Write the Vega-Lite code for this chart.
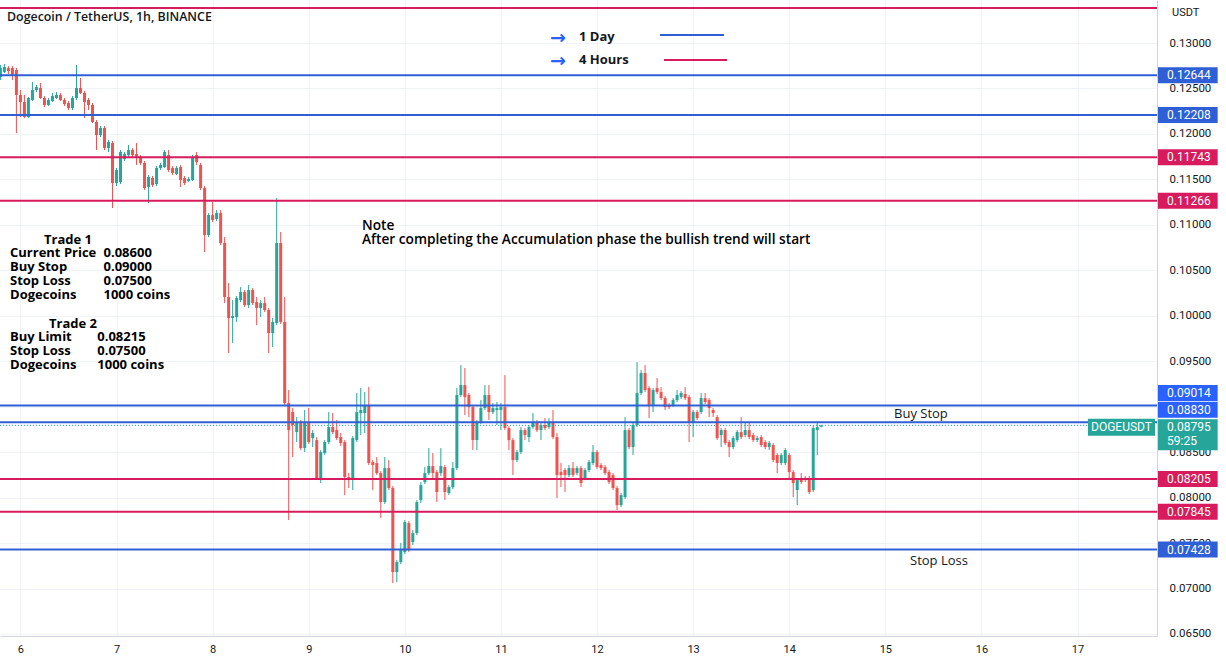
{
  "$schema": "https://vega.github.io/schema/vega-lite/v6.json",
  "width": 1157,
  "height": 636,
  "autosize": "none",
  "padding": {"left": 0, "top": 0, "right": 69, "bottom": 29},
  "background": "white",
  "config": {"view": {"stroke": null}, "font": "Roboto"},
  "datasets": {
    "candles": [
      {"t":19,"open":0.12626,"high":0.12758,"low":0.12593,"close":0.12725},
      {"t":20,"open":0.12681,"high":0.12769,"low":0.12670,"close":0.12736},
      {"t":21,"open":0.12725,"high":0.12747,"low":0.12659,"close":0.12692},
      {"t":22,"open":0.12725,"high":0.12747,"low":0.12593,"close":0.12648},
      {"t":23,"open":0.12703,"high":0.12725,"low":0.12010,"close":0.12428},
      {"t":24,"open":0.12428,"high":0.12483,"low":0.12186,"close":0.12351},
      {"t":25,"open":0.12351,"high":0.12428,"low":0.12175,"close":0.12186},
      {"t":26,"open":0.12186,"high":0.12406,"low":0.12175,"close":0.12395},
      {"t":27,"open":0.12373,"high":0.12571,"low":0.12362,"close":0.12483},
      {"t":28,"open":0.12483,"high":0.12538,"low":0.12461,"close":0.12516},
      {"t":29,"open":0.12505,"high":0.12560,"low":0.12384,"close":0.12395},
      {"t":30,"open":0.12395,"high":0.12417,"low":0.12296,"close":0.12318},
      {"t":31,"open":0.12318,"high":0.12395,"low":0.12307,"close":0.12373},
      {"t":32,"open":0.12362,"high":0.12450,"low":0.12351,"close":0.12417},
      {"t":33,"open":0.12395,"high":0.12461,"low":0.12384,"close":0.12428},
      {"t":34,"open":0.12428,"high":0.12450,"low":0.12362,"close":0.12373},
      {"t":35,"open":0.12373,"high":0.12395,"low":0.12307,"close":0.12329},
      {"t":36,"open":0.12340,"high":0.12362,"low":0.12263,"close":0.12285},
      {"t":37,"open":0.12285,"high":0.12417,"low":0.12263,"close":0.12395},
      {"t":38,"open":0.12395,"high":0.12758,"low":0.12373,"close":0.12505},
      {"t":39,"open":0.12505,"high":0.12615,"low":0.12439,"close":0.12450},
      {"t":40,"open":0.12450,"high":0.12472,"low":0.12175,"close":0.12351},
      {"t":41,"open":0.12373,"high":0.12395,"low":0.12263,"close":0.12318},
      {"t":42,"open":0.12318,"high":0.12340,"low":0.12120,"close":0.12131},
      {"t":43,"open":0.12131,"high":0.12153,"low":0.11823,"close":0.11988},
      {"t":44,"open":0.11988,"high":0.12087,"low":0.11966,"close":0.12065},
      {"t":45,"open":0.12065,"high":0.12087,"low":0.11823,"close":0.11845},
      {"t":46,"open":0.11845,"high":0.11933,"low":0.11801,"close":0.11911},
      {"t":47,"open":0.11900,"high":0.11922,"low":0.11185,"close":0.11460},
      {"t":48,"open":0.11460,"high":0.11625,"low":0.11427,"close":0.11603},
      {"t":49,"open":0.11471,"high":0.11823,"low":0.11449,"close":0.11801},
      {"t":50,"open":0.11724,"high":0.11801,"low":0.11702,"close":0.11779},
      {"t":51,"open":0.11768,"high":0.11878,"low":0.11746,"close":0.11823},
      {"t":52,"open":0.11823,"high":0.11845,"low":0.11746,"close":0.11768},
      {"t":53,"open":0.11779,"high":0.11900,"low":0.11658,"close":0.11735},
      {"t":54,"open":0.11746,"high":0.11768,"low":0.11658,"close":0.11680},
      {"t":55,"open":0.11680,"high":0.11702,"low":0.11383,"close":0.11405},
      {"t":56,"open":0.11416,"high":0.11548,"low":0.11240,"close":0.11526},
      {"t":57,"open":0.11515,"high":0.11537,"low":0.11416,"close":0.11438},
      {"t":58,"open":0.11449,"high":0.11647,"low":0.11427,"close":0.11625},
      {"t":59,"open":0.11625,"high":0.11680,"low":0.11603,"close":0.11658},
      {"t":60,"open":0.11636,"high":0.11823,"low":0.11625,"close":0.11801},
      {"t":61,"open":0.11768,"high":0.11823,"low":0.11581,"close":0.11603},
      {"t":62,"open":0.11625,"high":0.11647,"low":0.11548,"close":0.11570},
      {"t":63,"open":0.11559,"high":0.11647,"low":0.11548,"close":0.11625},
      {"t":64,"open":0.11636,"high":0.11658,"low":0.11416,"close":0.11493},
      {"t":65,"open":0.11515,"high":0.11537,"low":0.11438,"close":0.11460},
      {"t":66,"open":0.11482,"high":0.11526,"low":0.11471,"close":0.11504},
      {"t":67,"open":0.11493,"high":0.11768,"low":0.11482,"close":0.11735},
      {"t":68,"open":0.11768,"high":0.11801,"low":0.11658,"close":0.11691},
      {"t":69,"open":0.11658,"high":0.11680,"low":0.11383,"close":0.11405},
      {"t":70,"open":0.11405,"high":0.11427,"low":0.10701,"close":0.10888},
      {"t":71,"open":0.10888,"high":0.11130,"low":0.10866,"close":0.11108},
      {"t":72,"open":0.11108,"high":0.11251,"low":0.11031,"close":0.11053},
      {"t":73,"open":0.11064,"high":0.11163,"low":0.11042,"close":0.11130},
      {"t":74,"open":0.11130,"high":0.11163,"low":0.10778,"close":0.10800},
      {"t":75,"open":0.10800,"high":0.10866,"low":0.10140,"close":0.10206},
      {"t":76,"open":0.10206,"high":0.10360,"low":0.09590,"close":0.09975},
      {"t":77,"open":0.09975,"high":0.10173,"low":0.09700,"close":0.09997},
      {"t":78,"open":0.09986,"high":0.10217,"low":0.09931,"close":0.10195},
      {"t":79,"open":0.10173,"high":0.10316,"low":0.10151,"close":0.10261},
      {"t":80,"open":0.10261,"high":0.10283,"low":0.10096,"close":0.10118},
      {"t":81,"open":0.10118,"high":0.10338,"low":0.10085,"close":0.10283},
      {"t":82,"open":0.10283,"high":0.10305,"low":0.10118,"close":0.10140},
      {"t":83,"open":0.10151,"high":0.10206,"low":0.09898,"close":0.10085},
      {"t":84,"open":0.10085,"high":0.10173,"low":0.09986,"close":0.10140},
      {"t":85,"open":0.10140,"high":0.10206,"low":0.10041,"close":0.10063},
      {"t":86,"open":0.10063,"high":0.10085,"low":0.09590,"close":0.09810},
      {"t":87,"open":0.09810,"high":0.09975,"low":0.09656,"close":0.09931},
      {"t":88,"open":0.09920,"high":0.11295,"low":0.09898,"close":0.10800},
      {"t":89,"open":0.10800,"high":0.10921,"low":0.09909,"close":0.09931},
      {"t":90,"open":0.09931,"high":0.10206,"low":0.09018,"close":0.09040},
      {"t":91,"open":0.09040,"high":0.09183,"low":0.07753,"close":0.08743},
      {"t":92,"open":0.08941,"high":0.08985,"low":0.08446,"close":0.08798},
      {"t":93,"open":0.08721,"high":0.08886,"low":0.08611,"close":0.08820},
      {"t":94,"open":0.08820,"high":0.08853,"low":0.08523,"close":0.08545},
      {"t":95,"open":0.08545,"high":0.08963,"low":0.08501,"close":0.08820},
      {"t":96,"open":0.08820,"high":0.08985,"low":0.08589,"close":0.08611},
      {"t":97,"open":0.08655,"high":0.08743,"low":0.08556,"close":0.08710},
      {"t":98,"open":0.08633,"high":0.08666,"low":0.08193,"close":0.08215},
      {"t":99,"open":0.08215,"high":0.08523,"low":0.08160,"close":0.08501},
      {"t":100,"open":0.08490,"high":0.08633,"low":0.08468,"close":0.08611},
      {"t":101,"open":0.08611,"high":0.08941,"low":0.08589,"close":0.08776},
      {"t":102,"open":0.08776,"high":0.08930,"low":0.08699,"close":0.08721},
      {"t":103,"open":0.08743,"high":0.08853,"low":0.08633,"close":0.08655},
      {"t":104,"open":0.08666,"high":0.08710,"low":0.08567,"close":0.08600},
      {"t":105,"open":0.08611,"high":0.08633,"low":0.08028,"close":0.08226},
      {"t":106,"open":0.08226,"high":0.08270,"low":0.08105,"close":0.08193},
      {"t":107,"open":0.08215,"high":0.08677,"low":0.08083,"close":0.08655},
      {"t":108,"open":0.08633,"high":0.09150,"low":0.08611,"close":0.08941},
      {"t":109,"open":0.08930,"high":0.09205,"low":0.08688,"close":0.08963},
      {"t":110,"open":0.08930,"high":0.09161,"low":0.08710,"close":0.09018},
      {"t":111,"open":0.09018,"high":0.09216,"low":0.08358,"close":0.08380},
      {"t":112,"open":0.08391,"high":0.08413,"low":0.08083,"close":0.08358},
      {"t":113,"open":0.08380,"high":0.08446,"low":0.08248,"close":0.08270},
      {"t":114,"open":0.08270,"high":0.08292,"low":0.07775,"close":0.07951},
      {"t":115,"open":0.07951,"high":0.08446,"low":0.07929,"close":0.08325},
      {"t":116,"open":0.08325,"high":0.08413,"low":0.08083,"close":0.08105},
      {"t":117,"open":0.08105,"high":0.08127,"low":0.07060,"close":0.07181},
      {"t":118,"open":0.07181,"high":0.07313,"low":0.07071,"close":0.07291},
      {"t":119,"open":0.07291,"high":0.07500,"low":0.07269,"close":0.07423},
      {"t":120,"open":0.07401,"high":0.07753,"low":0.07379,"close":0.07731},
      {"t":121,"open":0.07720,"high":0.07742,"low":0.07401,"close":0.07423},
      {"t":122,"open":0.07511,"high":0.07643,"low":0.07478,"close":0.07610},
      {"t":123,"open":0.07610,"high":0.07973,"low":0.07588,"close":0.07951},
      {"t":124,"open":0.07973,"high":0.08171,"low":0.07940,"close":0.08138},
      {"t":125,"open":0.08171,"high":0.08336,"low":0.08149,"close":0.08270},
      {"t":126,"open":0.08270,"high":0.08545,"low":0.08248,"close":0.08347},
      {"t":127,"open":0.08347,"high":0.08490,"low":0.08193,"close":0.08270},
      {"t":128,"open":0.08281,"high":0.08303,"low":0.07951,"close":0.08061},
      {"t":129,"open":0.08270,"high":0.08545,"low":0.08237,"close":0.08347},
      {"t":130,"open":0.08336,"high":0.08358,"low":0.07973,"close":0.08061},
      {"t":131,"open":0.08050,"high":0.08138,"low":0.08028,"close":0.08116},
      {"t":132,"open":0.08116,"high":0.08391,"low":0.08094,"close":0.08325},
      {"t":133,"open":0.08325,"high":0.09205,"low":0.08303,"close":0.09128},
      {"t":134,"open":0.09128,"high":0.09458,"low":0.09106,"close":0.09238},
      {"t":135,"open":0.09238,"high":0.09425,"low":0.08908,"close":0.09106},
      {"t":136,"open":0.09128,"high":0.09150,"low":0.08886,"close":0.08996},
      {"t":137,"open":0.08996,"high":0.09018,"low":0.08523,"close":0.08633},
      {"t":138,"open":0.08633,"high":0.08853,"low":0.08523,"close":0.08831},
      {"t":139,"open":0.08831,"high":0.09073,"low":0.08809,"close":0.08985},
      {"t":140,"open":0.08985,"high":0.09238,"low":0.08963,"close":0.09128},
      {"t":141,"open":0.09128,"high":0.09238,"low":0.08853,"close":0.08941},
      {"t":142,"open":0.08941,"high":0.09040,"low":0.08919,"close":0.08985},
      {"t":143,"open":0.08963,"high":0.09051,"low":0.08798,"close":0.08985},
      {"t":144,"open":0.08963,"high":0.09040,"low":0.08743,"close":0.08996},
      {"t":145,"open":0.08996,"high":0.09348,"low":0.08743,"close":0.08765},
      {"t":146,"open":0.08765,"high":0.08787,"low":0.08523,"close":0.08633},
      {"t":147,"open":0.08633,"high":0.08655,"low":0.08248,"close":0.08413},
      {"t":148,"open":0.08413,"high":0.08523,"low":0.08391,"close":0.08501},
      {"t":149,"open":0.08501,"high":0.08776,"low":0.08479,"close":0.08743},
      {"t":150,"open":0.08743,"high":0.08765,"low":0.08633,"close":0.08688},
      {"t":151,"open":0.08666,"high":0.08798,"low":0.08611,"close":0.08776},
      {"t":152,"open":0.08776,"high":0.08930,"low":0.08754,"close":0.08831},
      {"t":153,"open":0.08831,"high":0.08853,"low":0.08721,"close":0.08743},
      {"t":154,"open":0.08743,"high":0.08820,"low":0.08633,"close":0.08798},
      {"t":155,"open":0.08798,"high":0.08875,"low":0.08743,"close":0.08765},
      {"t":156,"open":0.08776,"high":0.08875,"low":0.08754,"close":0.08831},
      {"t":157,"open":0.08831,"high":0.08963,"low":0.08644,"close":0.08666},
      {"t":158,"open":0.08666,"high":0.08710,"low":0.07995,"close":0.08248},
      {"t":159,"open":0.08281,"high":0.08380,"low":0.08116,"close":0.08248},
      {"t":160,"open":0.08303,"high":0.08325,"low":0.08061,"close":0.08248},
      {"t":161,"open":0.08248,"high":0.08358,"low":0.08226,"close":0.08325},
      {"t":162,"open":0.08325,"high":0.08391,"low":0.08226,"close":0.08248},
      {"t":163,"open":0.08270,"high":0.08347,"low":0.08248,"close":0.08325},
      {"t":164,"open":0.08325,"high":0.08347,"low":0.08116,"close":0.08160},
      {"t":165,"open":0.08215,"high":0.08325,"low":0.08193,"close":0.08303},
      {"t":166,"open":0.08303,"high":0.08413,"low":0.08281,"close":0.08391},
      {"t":167,"open":0.08380,"high":0.08578,"low":0.08358,"close":0.08501},
      {"t":168,"open":0.08501,"high":0.08523,"low":0.08314,"close":0.08336},
      {"t":169,"open":0.08358,"high":0.08380,"low":0.08303,"close":0.08325},
      {"t":170,"open":0.08336,"high":0.08358,"low":0.08248,"close":0.08270},
      {"t":171,"open":0.08281,"high":0.08303,"low":0.08149,"close":0.08171},
      {"t":172,"open":0.08248,"high":0.08270,"low":0.08083,"close":0.08105},
      {"t":173,"open":0.08105,"high":0.08127,"low":0.07863,"close":0.07918},
      {"t":174,"open":0.07918,"high":0.08050,"low":0.07896,"close":0.08028},
      {"t":175,"open":0.08006,"high":0.08886,"low":0.07984,"close":0.08743},
      {"t":176,"open":0.08743,"high":0.08765,"low":0.08534,"close":0.08556},
      {"t":177,"open":0.08556,"high":0.08820,"low":0.08468,"close":0.08798},
      {"t":178,"open":0.08798,"high":0.09491,"low":0.08776,"close":0.09150},
      {"t":179,"open":0.09150,"high":0.09403,"low":0.09128,"close":0.09370},
      {"t":180,"open":0.09370,"high":0.09458,"low":0.09161,"close":0.09183},
      {"t":181,"open":0.09205,"high":0.09227,"low":0.08875,"close":0.09018},
      {"t":182,"open":0.09018,"high":0.09205,"low":0.08941,"close":0.09183},
      {"t":183,"open":0.09205,"high":0.09315,"low":0.09139,"close":0.09161},
      {"t":184,"open":0.09161,"high":0.09216,"low":0.09073,"close":0.09095},
      {"t":185,"open":0.09095,"high":0.09117,"low":0.08963,"close":0.08996},
      {"t":186,"open":0.09018,"high":0.09040,"low":0.08974,"close":0.08996},
      {"t":187,"open":0.09018,"high":0.09095,"low":0.08996,"close":0.09073},
      {"t":188,"open":0.09073,"high":0.09183,"low":0.09051,"close":0.09128},
      {"t":189,"open":0.09106,"high":0.09172,"low":0.09084,"close":0.09150},
      {"t":190,"open":0.09139,"high":0.09216,"low":0.09073,"close":0.09095},
      {"t":191,"open":0.09106,"high":0.09128,"low":0.08611,"close":0.08831},
      {"t":192,"open":0.08831,"high":0.08963,"low":0.08666,"close":0.08941},
      {"t":193,"open":0.08941,"high":0.08963,"low":0.08853,"close":0.08875},
      {"t":194,"open":0.08941,"high":0.09150,"low":0.08919,"close":0.09095},
      {"t":195,"open":0.09095,"high":0.09150,"low":0.09029,"close":0.09051},
      {"t":196,"open":0.09073,"high":0.09095,"low":0.08886,"close":0.08985},
      {"t":197,"open":0.08963,"high":0.08985,"low":0.08886,"close":0.08930},
      {"t":198,"open":0.08886,"high":0.08908,"low":0.08633,"close":0.08655},
      {"t":199,"open":0.08688,"high":0.08765,"low":0.08556,"close":0.08743},
      {"t":200,"open":0.08743,"high":0.08765,"low":0.08578,"close":0.08600},
      {"t":201,"open":0.08611,"high":0.08633,"low":0.08446,"close":0.08556},
      {"t":202,"open":0.08556,"high":0.08677,"low":0.08534,"close":0.08655},
      {"t":203,"open":0.08633,"high":0.08743,"low":0.08611,"close":0.08721},
      {"t":204,"open":0.08721,"high":0.08886,"low":0.08644,"close":0.08666},
      {"t":205,"open":0.08688,"high":0.08831,"low":0.08666,"close":0.08743},
      {"t":206,"open":0.08743,"high":0.08831,"low":0.08644,"close":0.08666},
      {"t":207,"open":0.08688,"high":0.08710,"low":0.08611,"close":0.08633},
      {"t":208,"open":0.08633,"high":0.08677,"low":0.08611,"close":0.08655},
      {"t":209,"open":0.08666,"high":0.08688,"low":0.08556,"close":0.08578},
      {"t":210,"open":0.08611,"high":0.08633,"low":0.08534,"close":0.08556},
      {"t":211,"open":0.08556,"high":0.08622,"low":0.08523,"close":0.08600},
      {"t":212,"open":0.08578,"high":0.08600,"low":0.08391,"close":0.08413},
      {"t":213,"open":0.08468,"high":0.08490,"low":0.08270,"close":0.08380},
      {"t":214,"open":0.08380,"high":0.08490,"low":0.08358,"close":0.08468},
      {"t":215,"open":0.08380,"high":0.08545,"low":0.08358,"close":0.08523},
      {"t":216,"open":0.08468,"high":0.08490,"low":0.08193,"close":0.08281},
      {"t":217,"open":0.08281,"high":0.08303,"low":0.08006,"close":0.08160},
      {"t":218,"open":0.08083,"high":0.08215,"low":0.07918,"close":0.08193},
      {"t":219,"open":0.08215,"high":0.08270,"low":0.08149,"close":0.08171},
      {"t":220,"open":0.08215,"high":0.08237,"low":0.08171,"close":0.08193},
      {"t":221,"open":0.08215,"high":0.08237,"low":0.08039,"close":0.08061},
      {"t":222,"open":0.08083,"high":0.08787,"low":0.08061,"close":0.08765},
      {"t":223,"open":0.08743,"high":0.08820,"low":0.08468,"close":0.08776},
      {"t":224,"open":0.08780,"high":0.08800,"low":0.08775,"close":0.08795}
    ],
    "levels": [
      {"price":0.13385,"kind":"4 Hours"},
      {"price":0.12644,"kind":"1 Day"},
      {"price":0.12208,"kind":"1 Day"},
      {"price":0.11743,"kind":"4 Hours"},
      {"price":0.11266,"kind":"4 Hours"},
      {"price":0.09014,"kind":"1 Day"},
      {"price":0.08830,"kind":"1 Day"},
      {"price":0.08205,"kind":"4 Hours"},
      {"price":0.07845,"kind":"4 Hours"},
      {"price":0.07428,"kind":"1 Day"}
    ],
    "current": [
      {"price":0.08795,"symbol":"DOGEUSDT","countdown":"59:25"}
    ]
  },
  "layer": [
    {
      "data": {"name": "candles"},
      "mark": {"type": "rule", "strokeWidth": 1},
      "encoding": {
        "x": {"field": "t", "type": "quantitative",
          "scale": {"domain": [18.9, 307.85], "nice": false, "zero": false, "padding": 0},
          "axis": {"title": null, "values": [24,48,72,96,120,144,168,192,216,240,264,288],
            "labelExpr": "format(datum.value/24+5,'d')", "grid": true, "gridColor": "#f0f3fa",
            "ticks": false, "domain": true, "domainColor": "#d1d4dc", "labelFont": "Roboto",
            "labelFontSize": 11, "labelColor": "#131722", "labelPadding": 7, "labelFlush": false, "labelOverlap": false}},
        "y": {"field": "low", "type": "quantitative",
          "scale": {"domain": [0.06478, 0.13473], "nice": false, "zero": false, "padding": 0},
          "axis": {"title": null, "orient": "right",
            "values": [0.065,0.07,0.075,0.08,0.085,0.09,0.095,0.1,0.105,0.11,0.115,0.12,0.125,0.13],
            "format": ".5f", "grid": true, "gridColor": "#f0f3fa", "ticks": false, "domain": true,
            "domainColor": "#d1d4dc", "labelPadding": 12, "labelFont": "Roboto", "labelFontSize": 11.5,
            "labelColor": "#131722", "labelFlush": false, "labelOverlap": false}},
        "y2": {"field": "high"},
        "color": {"condition": {"test": "datum.close >= datum.open", "value": "#26a69a"}, "value": "#ef5350"}
      }
    },
    {
      "data": {"name": "candles"},
      "mark": {"type": "bar", "width": 3},
      "encoding": {
        "x": {"field": "t", "type": "quantitative"},
        "y": {"field": "open", "type": "quantitative"},
        "y2": {"field": "close"},
        "color": {"condition": {"test": "datum.close >= datum.open", "value": "#26a69a"}, "value": "#ef5350"}
      }
    },
    {
      "data": {"name": "levels"},
      "mark": {"type": "rule", "strokeWidth": 2},
      "encoding": {
        "y": {"field": "price", "type": "quantitative"},
        "color": {"field": "kind", "type": "nominal", "legend": null,
          "scale": {"domain": ["1 Day", "4 Hours"], "range": ["#2f5fd6", "#d81b5c"]}}
      }
    },
    {
      "data": {"name": "current"},
      "mark": {"type": "rule", "strokeWidth": 1, "strokeDash": [1, 2], "color": "#26a69a"},
      "encoding": {
        "y": {"field": "price", "type": "quantitative"},
        "x": {"datum": 18.9, "type": "quantitative"},
        "x2": {"datum": 290.6}
      }
    },
    {
      "data": {"name": "levels"},
      "transform": [{"filter": "datum.price < 0.13 && (datum.price < 0.088 || datum.price > 0.091)"}],
      "mark": {"type": "rect", "yOffset": -8, "y2Offset": 8},
      "encoding": {
        "x": {"datum": 308.1, "type": "quantitative"},
        "x2": {"datum": 323.0},
        "y": {"field": "price", "type": "quantitative"},
        "y2": {"field": "price"},
        "color": {"field": "kind", "type": "nominal", "legend": null,
          "scale": {"domain": ["1 Day", "4 Hours"], "range": ["#2962ff", "#e91e63"]}}
      }
    },
    {
      "data": {"name": "levels"},
      "transform": [{"filter": "datum.price > 0.088 && datum.price < 0.091"}],
      "mark": {"type": "rect", "yOffset": -20.5, "y2Offset": -4.5, "color": "#2962ff"},
      "encoding": {
        "x": {"datum": 308.1, "type": "quantitative"},
        "x2": {"datum": 323.0},
        "y": {"field": "price", "type": "quantitative"},
        "y2": {"field": "price"}
      }
    },
    {
      "data": {"name": "levels"},
      "transform": [{"filter": "datum.price < 0.13 && (datum.price < 0.088 || datum.price > 0.091)"}],
      "mark": {"type": "text", "align": "left", "baseline": "middle", "font": "Roboto", "fontSize": 12, "color": "white"},
      "encoding": {
        "x": {"datum": 310.35, "type": "quantitative"},
        "y": {"field": "price", "type": "quantitative"},
        "text": {"field": "price", "type": "quantitative", "format": ".5f"}
      }
    },
    {
      "data": {"name": "levels"},
      "transform": [{"filter": "datum.price > 0.088 && datum.price < 0.091"}],
      "mark": {"type": "text", "align": "left", "baseline": "middle", "font": "Roboto", "fontSize": 12, "color": "white", "yOffset": -12.5},
      "encoding": {
        "x": {"datum": 310.35, "type": "quantitative"},
        "y": {"field": "price", "type": "quantitative"},
        "text": {"field": "price", "type": "quantitative", "format": ".5f"}
      }
    },
    {
      "data": {"name": "current"},
      "mark": {"type": "rect", "yOffset": -6.5, "y2Offset": 10.5, "color": "#26a69a"},
      "encoding": {
        "x": {"datum": 290.6, "type": "quantitative"},
        "x2": {"datum": 307.35},
        "y": {"field": "price", "type": "quantitative"},
        "y2": {"field": "price"}
      }
    },
    {
      "data": {"name": "current"},
      "mark": {"type": "text", "align": "center", "baseline": "middle", "font": "Roboto", "fontSize": 12, "color": "white", "yOffset": 2},
      "encoding": {
        "x": {"datum": 298.98, "type": "quantitative"},
        "y": {"field": "price", "type": "quantitative"},
        "text": {"field": "symbol", "type": "nominal"}
      }
    },
    {
      "data": {"name": "current"},
      "mark": {"type": "rect", "yOffset": -6, "y2Offset": 25, "color": "#26a69a"},
      "encoding": {
        "x": {"datum": 308.1, "type": "quantitative"},
        "x2": {"datum": 323.0},
        "y": {"field": "price", "type": "quantitative"},
        "y2": {"field": "price"}
      }
    },
    {
      "data": {"name": "current"},
      "mark": {"type": "text", "align": "left", "baseline": "middle", "font": "Roboto", "fontSize": 12, "color": "white", "yOffset": 2},
      "encoding": {
        "x": {"datum": 310.35, "type": "quantitative"},
        "y": {"field": "price", "type": "quantitative"},
        "text": {"field": "price", "type": "quantitative", "format": ".5f"}
      }
    },
    {
      "data": {"name": "current"},
      "mark": {"type": "text", "align": "left", "baseline": "middle", "font": "Roboto", "fontSize": 12, "color": "white", "yOffset": 16},
      "encoding": {
        "x": {"datum": 310.35, "type": "quantitative"},
        "y": {"field": "price", "type": "quantitative"},
        "text": {"field": "countdown", "type": "nominal"}
      }
    },
    {
      "data": {"values": [{"label": "USDT"}]},
      "mark": {"type": "text", "align": "left", "baseline": "middle", "font": "Roboto", "fontSize": 11, "color": "#131722"},
      "encoding": {
        "x": {"datum": 311.6, "type": "quantitative"},
        "y": {"datum": 0.1333, "type": "quantitative"},
        "text": {"field": "label", "type": "nominal"}
      }
    },
    {
      "data": {"values": [{"label": "Dogecoin / TetherUS, 1h, BINANCE"}]},
      "mark": {"type": "text", "align": "left", "baseline": "middle", "font": "Open Sans", "fontWeight": 600, "fontSize": 12.4, "color": "#131722"},
      "encoding": {
        "x": {"datum": 20.65, "type": "quantitative"},
        "y": {"datum": 0.13286, "type": "quantitative"},
        "text": {"field": "label", "type": "nominal"}
      }
    },
    {
      "data": {"values": [{"label": "→"}]},
      "mark": {"type": "text", "align": "center", "baseline": "middle", "font": "DejaVu Sans", "fontWeight": "bold", "fontSize": 19, "color": "#2962ff"},
      "encoding": {
        "x": {"datum": 158.26, "type": "quantitative"},
        "y": {"datum": 0.13055, "type": "quantitative"},
        "text": {"field": "label", "type": "nominal"}
      }
    },
    {
      "data": {"values": [{"label": "→"}]},
      "mark": {"type": "text", "align": "center", "baseline": "middle", "font": "DejaVu Sans", "fontWeight": "bold", "fontSize": 19, "color": "#2962ff"},
      "encoding": {
        "x": {"datum": 158.26, "type": "quantitative"},
        "y": {"datum": 0.12802, "type": "quantitative"},
        "text": {"field": "label", "type": "nominal"}
      }
    },
    {
      "data": {"values": [{"label": "1 Day"}]},
      "mark": {"type": "text", "align": "left", "baseline": "middle", "font": "Open Sans", "fontWeight": "bold", "fontSize": 13, "color": "#131722"},
      "encoding": {
        "x": {"datum": 163.5, "type": "quantitative"},
        "y": {"datum": 0.13066, "type": "quantitative"},
        "text": {"field": "label", "type": "nominal"}
      }
    },
    {
      "data": {"values": [{"label": "4 Hours"}]},
      "mark": {"type": "text", "align": "left", "baseline": "middle", "font": "Open Sans", "fontWeight": "bold", "fontSize": 13, "color": "#131722"},
      "encoding": {
        "x": {"datum": 163.5, "type": "quantitative"},
        "y": {"datum": 0.12813, "type": "quantitative"},
        "text": {"field": "label", "type": "nominal"}
      }
    },
    {
      "data": {"values": [{"kind": "1 Day"}]},
      "mark": {"type": "rule", "strokeWidth": 2, "color": "#2f5fd6"},
      "encoding": {
        "x": {"datum": 183.73, "type": "quantitative"},
        "x2": {"datum": 199.71},
        "y": {"datum": 0.13088, "type": "quantitative"}
      }
    },
    {
      "data": {"values": [{"kind": "4 Hours"}]},
      "mark": {"type": "rule", "strokeWidth": 2, "color": "#d81b5c"},
      "encoding": {
        "x": {"datum": 184.73, "type": "quantitative"},
        "x2": {"datum": 200.46},
        "y": {"datum": 0.12813, "type": "quantitative"}
      }
    },
    {
      "data": {"values": [{"label": "Trade 1"}]},
      "mark": {"type": "text", "align": "center", "baseline": "middle", "font": "Open Sans", "fontWeight": "bold", "fontSize": 13, "color": "#000000"},
      "encoding": {
        "x": {"datum": 35.88, "type": "quantitative"},
        "y": {"datum": 0.10833, "type": "quantitative"},
        "text": {"field": "label", "type": "nominal"}
      }
    },
    {
      "data": {"values": [{}]},
      "mark": {"type": "text", "align": "left", "baseline": "top", "font": "Open Sans", "fontWeight": "bold", "fontSize": 13, "lineHeight": 14, "color": "#000000",
        "text": ["Current Price", "Buy Stop", "Stop Loss", "Dogecoins"]},
      "encoding": {
        "x": {"datum": 21.4, "type": "quantitative"},
        "y": {"datum": 0.10751, "type": "quantitative"}
      }
    },
    {
      "data": {"values": [{}]},
      "mark": {"type": "text", "align": "left", "baseline": "top", "font": "Open Sans", "fontWeight": "bold", "fontSize": 13, "lineHeight": 14, "color": "#000000",
        "text": ["0.08600", "0.09000", "0.07500", "1000 coins"]},
      "encoding": {
        "x": {"datum": 44.75, "type": "quantitative"},
        "y": {"datum": 0.10751, "type": "quantitative"}
      }
    },
    {
      "data": {"values": [{"label": "Trade 2"}]},
      "mark": {"type": "text", "align": "center", "baseline": "middle", "font": "Open Sans", "fontWeight": "bold", "fontSize": 13, "color": "#000000"},
      "encoding": {
        "x": {"datum": 37.13, "type": "quantitative"},
        "y": {"datum": 0.09909, "type": "quantitative"},
        "text": {"field": "label", "type": "nominal"}
      }
    },
    {
      "data": {"values": [{}]},
      "mark": {"type": "text", "align": "left", "baseline": "top", "font": "Open Sans", "fontWeight": "bold", "fontSize": 13, "lineHeight": 14, "color": "#000000",
        "text": ["Buy Limit", "Stop Loss", "Dogecoins"]},
      "encoding": {
        "x": {"datum": 21.4, "type": "quantitative"},
        "y": {"datum": 0.09832, "type": "quantitative"}
      }
    },
    {
      "data": {"values": [{}]},
      "mark": {"type": "text", "align": "left", "baseline": "top", "font": "Open Sans", "fontWeight": "bold", "fontSize": 13, "lineHeight": 14, "color": "#000000",
        "text": ["0.08215", "0.07500", "1000 coins"]},
      "encoding": {
        "x": {"datum": 43.2, "type": "quantitative"},
        "y": {"datum": 0.09832, "type": "quantitative"}
      }
    },
    {
      "data": {"values": [{}]},
      "mark": {"type": "text", "align": "left", "baseline": "top", "font": "Open Sans", "fontWeight": 600, "fontSize": 13.7, "lineHeight": 14, "color": "#000000",
        "text": ["Note", "After completing the Accumulation phase the bullish trend will start"]},
      "encoding": {
        "x": {"datum": 109.31, "type": "quantitative"},
        "y": {"datum": 0.11064, "type": "quantitative"}
      }
    },
    {
      "data": {"values": [{"label": "Buy Stop"}]},
      "mark": {"type": "text", "align": "left", "baseline": "middle", "font": "Open Sans", "fontSize": 13, "color": "#131722"},
      "encoding": {
        "x": {"datum": 242.17, "type": "quantitative"},
        "y": {"datum": 0.08919, "type": "quantitative"},
        "text": {"field": "label", "type": "nominal"}
      }
    },
    {
      "data": {"values": [{"label": "Stop Loss"}]},
      "mark": {"type": "text", "align": "left", "baseline": "middle", "font": "Open Sans", "fontSize": 13, "color": "#131722"},
      "encoding": {
        "x": {"datum": 246.17, "type": "quantitative"},
        "y": {"datum": 0.07302, "type": "quantitative"},
        "text": {"field": "label", "type": "nominal"}
      }
    }
  ]
}
